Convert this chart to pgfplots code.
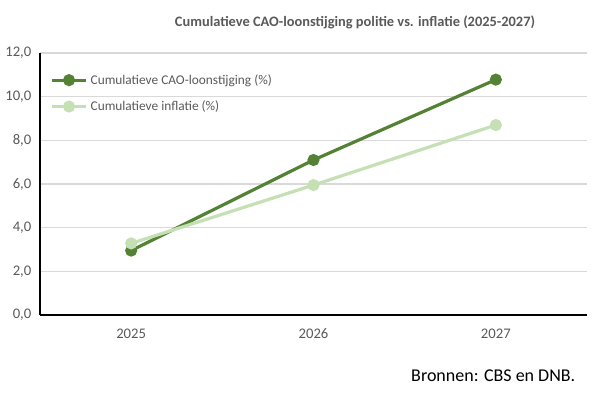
\documentclass[border=0pt]{standalone}
\usepackage{pgfplots}
\pgfplotsset{compat=1.18}
\usepackage{fontspec}
\setmainfont{Carlito}
\definecolor{dgreen}{HTML}{548235}
\definecolor{lgreen}{HTML}{C5E0B4}
\definecolor{txtgray}{HTML}{595959}
\definecolor{gridgray}{HTML}{D9D9D9}
\begin{document}
\begin{tikzpicture}
\path[use as bounding box] (0pt,0pt) rectangle (451.5pt,294pt);
\begin{axis}[
  at={(30pt,57.75pt)}, anchor=south west,
  scale only axis, width=410.25pt, height=196.5pt,
  xmin=-0.5, xmax=2.5, ymin=0, ymax=12,
  xtick={0,1,2}, xticklabels={2025,2026,2027},
  ytick={0,2,...,12},
  axis x line*=bottom, axis y line*=left,
  axis line style={black, line width=1.1pt, -},
  major x tick style={draw=none},
  major y tick style={draw=none},
  extra x ticks={-0.5,0.5,1.5,2.5}, extra x tick labels={},
  extra x tick style={tick style={black, line width=0.9pt}, major tick length=3.5pt, xtick pos=bottom, tick align=inside, grid=none},
  ymajorgrids, grid style={gridgray, line width=0.9pt},
  /pgf/number format/.cd, fixed, fixed zerofill, precision=1, use comma, assume math mode=true,
  /pgfplots/.cd,
  tick label style={font=\fontsize{11pt}{13pt}\selectfont, text=txtgray},
  yticklabel style={xshift=-3pt},
  xticklabel style={yshift=-7pt},
  legend style={at={(0.018,0.93)}, anchor=north west, draw=none, fill=none, font=\fontsize{10pt}{12pt}\selectfont, text=txtgray, row sep=7pt, inner sep=0pt, /tikz/every even column/.append style={column sep=0pt}},
  legend cell align=left,
  legend image code/.code={\draw[mark repeat=2,mark phase=2] plot coordinates {(0pt,0pt) (13pt,0pt) (26pt,0pt)};},
]
\addplot[dgreen, line width=2.4pt, mark=*, mark size=3.3pt, mark options={solid}] coordinates {(0,2.95) (1,7.1) (2,10.78)};
\addlegendentry{Cumulatieve CAO-loonstijging (\%)}
\addplot[lgreen, line width=2.4pt, mark=*, mark size=3.3pt, mark options={solid}] coordinates {(0,3.28) (1,5.95) (2,8.7)};
\addlegendentry{Cumulatieve inflatie (\%)}
\end{axis}
\node[font=\bfseries\fontsize{10.8pt}{13pt}\selectfont, text=txtgray] at (266.25pt,277pt) {Cumulatieve CAO-loonstijging politie vs. inflatie (2025-2027)};
\node[anchor=east, font=\fontsize{13.5pt}{16pt}\selectfont, text=black] at (435pt,12pt) {Bronnen: CBS en DNB.};
\end{tikzpicture}
\end{document}
